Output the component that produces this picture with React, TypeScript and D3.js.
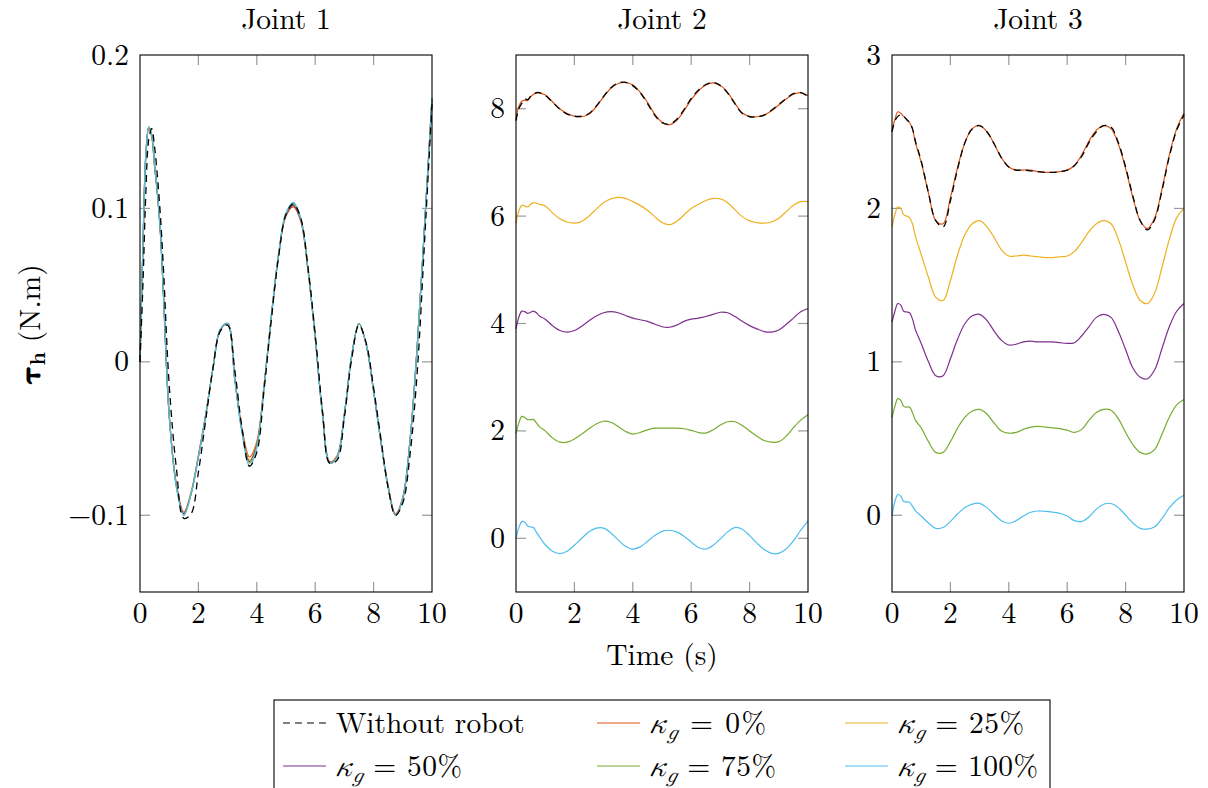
import React from 'react';
import * as d3 from 'd3';

// ---------- data ----------
const T = [0, 0.1, 0.2, 0.3, 0.4, 0.5, 0.6, 0.7, 0.8, 1.0, 1.25, 1.5, 1.75, 2.0, 2.25, 2.5, 2.75, 3.0, 3.25, 3.5, 3.75, 4.0, 4.25, 4.5, 4.75, 5.0, 5.25, 5.5, 5.75, 6.0, 6.25, 6.5, 6.75, 7.0, 7.25, 7.5, 7.75, 8.0, 8.25, 8.5, 8.75, 9.0, 9.25, 9.5, 9.75, 10.0];

const seriesNames = ['Without robot', 'κg = 0%', 'κg = 25%', 'κg = 50%', 'κg = 75%', 'κg = 100%'];
const seriesColors = ['#000000', '#D95319', '#EDB120', '#7E2F8E', '#77AC30', '#4DBEEE'];
const legendPct = ['', '0%', '25%', '50%', '75%', '100%'];

const panelTitles = ['Joint 1', 'Joint 2', 'Joint 3'];
const yDomains = [[-0.15, 0.2], [-1, 9], [-0.5, 3]];
const yTicks = [[-0.1, 0, 0.1, 0.2], [0, 2, 4, 6, 8], [0, 1, 2, 3]];
const xTicks = [0, 2, 4, 6, 8, 10];

// Joint 1
const J1_noRobot = [0, 0.05, 0.11, 0.145, 0.152, 0.14, 0.12, 0.095, 0.062, -0.015, -0.07, -0.102, -0.099, -0.072, -0.038, -0.004, 0.02, 0.024, -0.006, -0.044, -0.068, -0.059, -0.018, 0.028, 0.069, 0.096, 0.103, 0.094, 0.062, 0.018, -0.032, -0.066, -0.064, -0.036, 0.002, 0.024, 0.012, -0.017, -0.05, -0.082, -0.1, -0.092, -0.06, -0.005, 0.08, 0.168];
const J1_k0 = [0, 0.075, 0.134, 0.152, 0.147, 0.127, 0.109, 0.083, 0.046, -0.034, -0.08, -0.098, -0.085, -0.061, -0.034, -0.004, 0.021, 0.025, -0.011, -0.044, -0.062, -0.052, -0.015, 0.03, 0.07, 0.095, 0.101, 0.092, 0.06, 0.016, -0.033, -0.065, -0.061, -0.034, 0.004, 0.025, 0.011, -0.019, -0.052, -0.081, -0.099, -0.088, -0.05, 0.012, 0.09, 0.171];
const J1_k25 = [0, 0.075, 0.134, 0.153, 0.147, 0.127, 0.109, 0.084, 0.045, -0.035, -0.081, -0.099, -0.085, -0.061, -0.035, -0.004, 0.021, 0.025, -0.012, -0.045, -0.064, -0.053, -0.015, 0.03, 0.07, 0.096, 0.102, 0.093, 0.06, 0.016, -0.034, -0.066, -0.062, -0.034, 0.004, 0.025, 0.011, -0.019, -0.052, -0.082, -0.1, -0.089, -0.051, 0.012, 0.09, 0.171];
const J1_k50 = [0, 0.075, 0.135, 0.153, 0.148, 0.128, 0.109, 0.084, 0.045, -0.035, -0.081, -0.099, -0.086, -0.062, -0.035, -0.004, 0.021, 0.025, -0.012, -0.046, -0.065, -0.054, -0.016, 0.03, 0.07, 0.096, 0.102, 0.093, 0.061, 0.016, -0.034, -0.066, -0.062, -0.034, 0.004, 0.025, 0.011, -0.019, -0.052, -0.082, -0.1, -0.089, -0.051, 0.012, 0.09, 0.172];
const J1_k75 = [0, 0.075, 0.135, 0.153, 0.148, 0.128, 0.109, 0.085, 0.045, -0.035, -0.082, -0.1, -0.086, -0.062, -0.035, -0.004, 0.021, 0.025, -0.012, -0.046, -0.066, -0.055, -0.016, 0.03, 0.071, 0.097, 0.103, 0.094, 0.061, 0.016, -0.034, -0.066, -0.062, -0.034, 0.004, 0.025, 0.011, -0.019, -0.052, -0.082, -0.1, -0.089, -0.051, 0.012, 0.09, 0.172];
const J1_k100 = [0, 0.075, 0.135, 0.153, 0.148, 0.128, 0.11, 0.085, 0.045, -0.035, -0.082, -0.1, -0.086, -0.062, -0.035, -0.004, 0.021, 0.025, -0.012, -0.047, -0.068, -0.056, -0.016, 0.03, 0.071, 0.097, 0.104, 0.094, 0.061, 0.016, -0.034, -0.066, -0.062, -0.034, 0.004, 0.025, 0.011, -0.019, -0.052, -0.082, -0.1, -0.089, -0.051, 0.012, 0.09, 0.172];

// Joint 2
const J2_noRobot = [7.78, 8.0, 8.1, 8.18, 8.17, 8.23, 8.27, 8.3, 8.3, 8.25, 8.12, 7.99, 7.9, 7.86, 7.86, 7.91, 8.05, 8.23, 8.39, 8.48, 8.49, 8.43, 8.3, 8.1, 7.88, 7.74, 7.71, 7.8, 7.98, 8.19, 8.35, 8.45, 8.49, 8.43, 8.29, 8.09, 7.91, 7.85, 7.85, 7.88, 7.97, 8.08, 8.19, 8.28, 8.3, 8.23];
const J2_k0 = [7.8, 8.05, 8.14, 8.16, 8.15, 8.22, 8.27, 8.29, 8.29, 8.26, 8.13, 8.0, 7.91, 7.86, 7.85, 7.9, 8.04, 8.22, 8.38, 8.47, 8.49, 8.44, 8.31, 8.12, 7.9, 7.75, 7.7, 7.78, 7.96, 8.17, 8.33, 8.44, 8.48, 8.43, 8.3, 8.1, 7.92, 7.86, 7.85, 7.88, 7.96, 8.07, 8.18, 8.27, 8.3, 8.24];
const J2_k25 = [5.87, 6.1, 6.2, 6.19, 6.17, 6.22, 6.25, 6.24, 6.22, 6.19, 6.06, 5.95, 5.89, 5.87, 5.9, 6.0, 6.13, 6.25, 6.32, 6.35, 6.33, 6.27, 6.2, 6.11, 5.99, 5.88, 5.84, 5.9, 6.02, 6.14, 6.22, 6.29, 6.33, 6.32, 6.25, 6.12, 5.99, 5.91, 5.88, 5.87, 5.89, 5.96, 6.08, 6.2, 6.27, 6.27];
const J2_k50 = [3.9, 4.12, 4.23, 4.22, 4.19, 4.21, 4.23, 4.2, 4.14, 4.08, 3.96, 3.87, 3.84, 3.87, 3.95, 4.05, 4.14, 4.2, 4.22, 4.2, 4.15, 4.1, 4.07, 4.04, 3.99, 3.94, 3.93, 3.97, 4.04, 4.08, 4.1, 4.13, 4.17, 4.21, 4.2, 4.13, 4.04, 3.96, 3.9, 3.85, 3.84, 3.88, 3.98, 4.1, 4.22, 4.28];
const J2_k75 = [1.95, 2.15, 2.27, 2.25, 2.21, 2.21, 2.21, 2.15, 2.08, 2.0, 1.87, 1.79, 1.79, 1.85, 1.94, 2.04, 2.13, 2.18, 2.16, 2.08, 1.99, 1.94, 1.97, 2.02, 2.05, 2.05, 2.05, 2.05, 2.04, 2.01, 1.97, 1.96, 2.02, 2.11, 2.17, 2.17, 2.1, 2.0, 1.9, 1.82, 1.79, 1.8, 1.9, 2.06, 2.2, 2.3];
const J2_k100 = [0.0, 0.2, 0.31, 0.3, 0.23, 0.21, 0.2, 0.11, 0.03, -0.12, -0.24, -0.285, -0.24, -0.13, 0.0, 0.12, 0.19, 0.19, 0.1, -0.03, -0.15, -0.2, -0.16, -0.06, 0.05, 0.13, 0.15, 0.12, 0.04, -0.07, -0.17, -0.2, -0.13, -0.01, 0.12, 0.2, 0.17, 0.05, -0.09, -0.21, -0.28, -0.28, -0.2, -0.05, 0.15, 0.32];

// Joint 3
const J3_noRobot = [2.5, 2.57, 2.6, 2.61, 2.6, 2.58, 2.56, 2.52, 2.44, 2.31, 2.1, 1.92, 1.88, 2.05, 2.26, 2.43, 2.52, 2.54, 2.5, 2.42, 2.33, 2.27, 2.25, 2.25, 2.245, 2.24, 2.235, 2.235, 2.24, 2.25, 2.28, 2.34, 2.43, 2.5, 2.54, 2.53, 2.43, 2.27, 2.08, 1.92, 1.86, 1.93, 2.12, 2.34, 2.51, 2.61];
const J3_k0 = [2.5, 2.58, 2.63, 2.62, 2.6, 2.58, 2.56, 2.52, 2.43, 2.3, 2.1, 1.92, 1.9, 2.07, 2.27, 2.43, 2.52, 2.54, 2.5, 2.42, 2.33, 2.27, 2.25, 2.25, 2.25, 2.24, 2.235, 2.235, 2.24, 2.25, 2.28, 2.35, 2.44, 2.51, 2.54, 2.52, 2.42, 2.26, 2.07, 1.92, 1.87, 1.94, 2.13, 2.35, 2.52, 2.62];
const J3_k25 = [1.88, 1.96, 2.01, 2.0, 1.96, 1.95, 1.94, 1.9, 1.82, 1.7, 1.55, 1.42, 1.4, 1.53, 1.7, 1.83, 1.9, 1.92, 1.88, 1.81, 1.73, 1.69, 1.69, 1.695, 1.69, 1.685, 1.68, 1.68, 1.685, 1.69, 1.72, 1.78, 1.85, 1.9, 1.92, 1.9, 1.8, 1.65, 1.5, 1.4, 1.38, 1.45, 1.62, 1.8, 1.94, 2.0];
const J3_k50 = [1.26, 1.33, 1.38, 1.37, 1.33, 1.325, 1.32, 1.28, 1.21, 1.12, 1.0, 0.91, 0.91, 1.02, 1.15, 1.25, 1.3, 1.31, 1.27, 1.2, 1.14, 1.11, 1.115, 1.13, 1.135, 1.13, 1.13, 1.13, 1.125, 1.12, 1.125, 1.17, 1.23, 1.29, 1.31, 1.29, 1.2, 1.08, 0.96, 0.9, 0.89, 0.95, 1.09, 1.23, 1.33, 1.38];
const J3_k75 = [0.635, 0.71, 0.76, 0.75, 0.71, 0.705, 0.705, 0.67, 0.62, 0.57, 0.48, 0.41, 0.41, 0.48, 0.57, 0.64, 0.68, 0.69, 0.66, 0.6, 0.55, 0.535, 0.54, 0.56, 0.575, 0.58, 0.575, 0.57, 0.565, 0.555, 0.54, 0.56, 0.62, 0.67, 0.69, 0.685, 0.63, 0.54, 0.46, 0.41, 0.4, 0.43, 0.53, 0.64, 0.72, 0.755];
const J3_k100 = [0.0, 0.09, 0.135, 0.125, 0.09, 0.087, 0.085, 0.06, 0.03, -0.005, -0.05, -0.085, -0.08, -0.04, 0.01, 0.05, 0.073, 0.078, 0.05, 0.005, -0.035, -0.052, -0.035, -0.005, 0.02, 0.028, 0.025, 0.02, 0.013, -0.005, -0.035, -0.04, -0.01, 0.04, 0.072, 0.077, 0.05, 0.0, -0.05, -0.085, -0.09, -0.075, -0.02, 0.05, 0.1, 0.13];

const panelSeries = [
  [J1_noRobot, J1_k0, J1_k25, J1_k50, J1_k75, J1_k100],
  [J2_noRobot, J2_k0, J2_k25, J2_k50, J2_k75, J2_k100],
  [J3_noRobot, J3_k0, J3_k25, J3_k50, J3_k75, J3_k100],
];

// ---------- layout ----------
const TXT: React.CSSProperties = { fontFamily: "'Latin Modern Roman'" };
const MATH: React.CSSProperties = { fontFamily: "'Latin Modern Math'" };
const panelLefts = [140, 516, 892];
const PW = 292;
const TOP = 55;
const BOTTOM = 592;
const TICK = 10;
const FS = 29.5;
const DASH = '7,5';
const kappaWidths = [0, 117, 127, 127, 127, 141];

function fmtTick(v: number) {
  return v < 0 ? '\u2212' + String(Math.abs(v)) : String(v);
}

function Panel({ idx }: { idx: number }) {
  const left = panelLefts[idx];
  const x = d3.scaleLinear().domain([0, 10]).range([left, left + PW]);
  const y = d3.scaleLinear().domain(yDomains[idx]).range([BOTTOM, TOP]);
  const line = d3
    .line<number>()
    .x((_, i) => x(T[i]))
    .y((d) => y(d))
    .curve(d3.curveCatmullRom.alpha(0.5));
  const series = panelSeries[idx];
  const order = [1, 2, 3, 4, 5, 0];
  return (
    <g>
      <text x={left + PW / 2} y={29} textAnchor="middle" style={TXT} fontSize={FS}>
        {panelTitles[idx]}
      </text>
      {xTicks.filter((t) => t > 0 && t < 10).map((t) => (
        <g key={'xt' + t} stroke="#9a9a9a" strokeWidth={1.2}>
          <line x1={x(t)} x2={x(t)} y1={BOTTOM} y2={BOTTOM - TICK} />
          <line x1={x(t)} x2={x(t)} y1={TOP} y2={TOP + TICK} />
        </g>
      ))}
      {yTicks[idx].filter((v) => y(v) > TOP + 1).map((v) => (
        <g key={'yt' + v} stroke="#9a9a9a" strokeWidth={1.2}>
          <line x1={left} x2={left + TICK} y1={y(v)} y2={y(v)} />
          <line x1={left + PW} x2={left + PW - TICK} y1={y(v)} y2={y(v)} />
        </g>
      ))}
      {order.map((s) => (
        <path
          key={'s' + s}
          d={line(series[s]) || ''}
          fill="none"
          stroke={seriesColors[s]}
          strokeWidth={s === 0 ? 1.3 : 1.2}
          strokeDasharray={s === 0 ? DASH : undefined}
        />
      ))}
      <rect x={left} y={TOP} width={PW} height={BOTTOM - TOP} fill="none" stroke="#000" strokeWidth={1.1} />
      {xTicks.map((t) => (
        <text key={'xl' + t} x={x(t)} y={623} textAnchor="middle" style={TXT} fontSize={FS}>
          {t}
        </text>
      ))}
      {yTicks[idx].map((v) => (
        <text key={'yl' + v} x={left - 11} y={y(v) + 9.5} textAnchor="end" style={TXT} fontSize={FS}>
          {fmtTick(v)}
        </text>
      ))}
    </g>
  );
}

function KappaLabel({ x, y, pct, w }: { x: number; y: number; pct: string; w: number }) {
  return (
    <text x={x} y={y} style={TXT} fontSize={FS} textLength={w} lengthAdjust="spacing">
      <tspan style={MATH} fontStyle="italic">𝜅</tspan>
      <tspan style={MATH} fontStyle="italic" fontSize={21} dy={6}>𝑔</tspan>
      <tspan dy={-6}>{' = ' + pct}</tspan>
    </text>
  );
}

export default function App() {
  const legendCols = [283, 597, 845];
  const legendRows = [723, 766];
  return (
    <svg width={1208} height={788} style={{ position: 'absolute', left: 0, top: 0, background: '#fff' }}>
      <rect x={0} y={0} width={1208} height={788} fill="#fff" />
      {[0, 1, 2].map((i) => (
        <Panel key={i} idx={i} />
      ))}
      <text transform="translate(40,324) rotate(-90)" textAnchor="middle" style={TXT} fontSize={FS}>
        <tspan style={MATH} fontWeight="bold">𝛕</tspan>
        <tspan fontWeight="bold" fontSize={21} dy={5}>h</tspan>
        <tspan dy={-5}>{' (N.m)'}</tspan>
      </text>
      <text x={662} y={665} textAnchor="middle" style={TXT} fontSize={FS}>
        Time (s)
      </text>
      <rect x={274} y={700} width={776} height={100} fill="#fff" stroke="#000" strokeWidth={1.1} />
      {seriesNames.map((name, i) => {
        const col = i % 3;
        const row = Math.floor(i / 3);
        const lx = legendCols[col];
        const ly = legendRows[row];
        return (
          <g key={'lg' + i}>
            <line
              x1={lx}
              x2={lx + 43}
              y1={ly}
              y2={ly}
              stroke={seriesColors[i]}
              strokeWidth={1.2}
              strokeDasharray={i === 0 ? DASH : undefined}
            />
            {i === 0 ? (
              <text x={lx + 53} y={ly + 10} style={TXT} fontSize={FS}>
                {name}
              </text>
            ) : (
              <KappaLabel x={lx + 52} y={ly + 10} pct={legendPct[i]} w={kappaWidths[i]} />
            )}
          </g>
        );
      })}
    </svg>
  );
}
